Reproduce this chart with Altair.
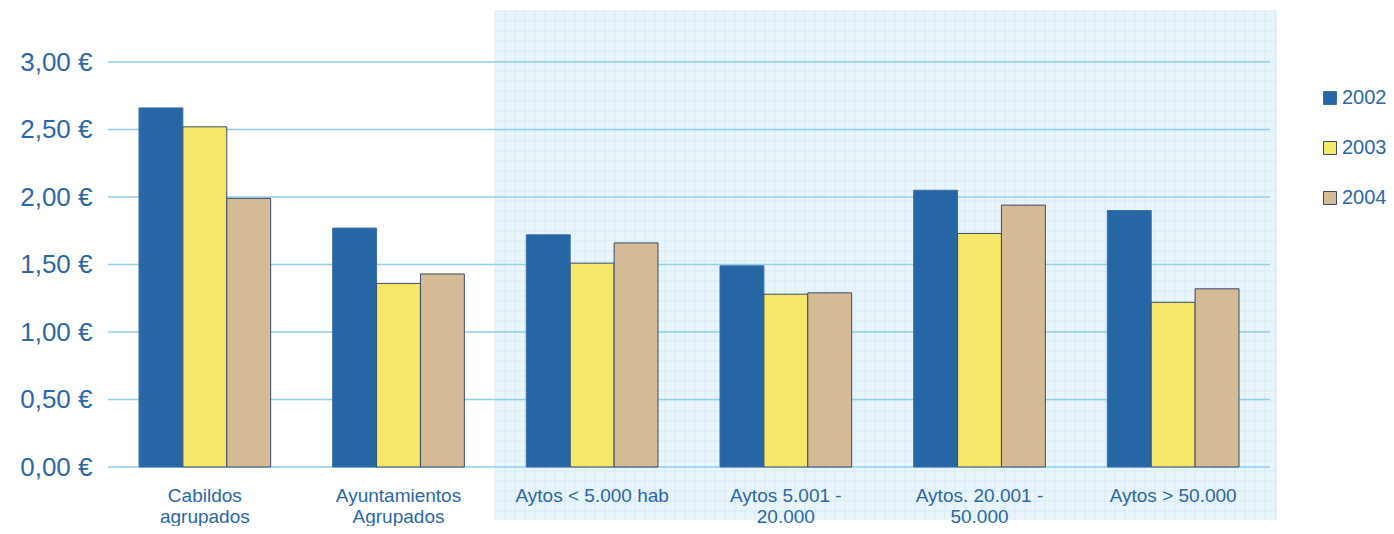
import altair as alt
import pandas as pd

categories = [
    "Cabildos|agrupados",
    "Ayuntamientos|Agrupados",
    "Aytos < 5.000 hab",
    "Aytos 5.001 -|20.000",
    "Aytos. 20.001 -|50.000",
    "Aytos > 50.000",
]
years = ["2002", "2003", "2004"]
v2002 = [2.66, 1.77, 1.72, 1.49, 2.05, 1.90]
v2003 = [2.52, 1.36, 1.51, 1.28, 1.73, 1.22]
v2004 = [1.99, 1.43, 1.66, 1.29, 1.94, 1.32]
y_ticks = [0, 0.5, 1, 1.5, 2, 2.5, 3]
colors = ["#2766a5", "#f7e768", "#d4bb95"]
strokes = ["#3d6fa8", "#3a4a6e", "#3a4a6e"]
text_color = "#2c68a8"

rows = []
for yr, vals in zip(years, [v2002, v2003, v2004]):
    for c, v in zip(categories, vals):
        rows.append({"cat": c, "year": yr, "value": v})
df = pd.DataFrame(rows)

W, H = 1162, 405
yscale = alt.Scale(domain=[0, 3], nice=False)
yaxis = alt.Axis(
    title=None,
    values=y_ticks,
    labelExpr="replace(format(datum.value, '.2f'), '.', ',') + ' €'",
    labelFontSize=26,
    labelColor=text_color,
    labelFont="Liberation Sans",
    labelPadding=16,
    domain=False,
    ticks=False,
    grid=False,
    zindex=1,
)

# shaded background panel (decoration)
bg = alt.Chart(pd.DataFrame({"a": [0]})).mark_rect(
    fill="#e9f5fb"
).encode(
    x=alt.value(387), x2=alt.value(1169), y=alt.value(-51), y2=alt.value(458)
)

grid_v = alt.Chart(alt.sequence(0, 79, 1, as_="i")).transform_calculate(
    px="387 + datum.i * 10"
).mark_rule(color="#d6ebf6", strokeWidth=1).encode(
    x=alt.X("px:Q", scale=None, axis=None), y=alt.value(-51), y2=alt.value(458)
)
grid_h = alt.Chart(alt.sequence(0, 51, 1, as_="j")).transform_calculate(
    py="-51 + datum.j * 10"
).mark_rule(color="#d6ebf6", strokeWidth=1).encode(
    y=alt.Y("py:Q", scale=None, axis=None), x=alt.value(387), x2=alt.value(1169)
)

gridlines = alt.Chart(pd.DataFrame({"t": y_ticks})).mark_rule(
    color="#8fd0ea", strokeWidth=1.5
).encode(
    y=alt.Y("t:Q", scale=yscale, axis=yaxis)
)

bars = alt.Chart(df).mark_bar(strokeWidth=1).encode(
    x=alt.X(
        "cat:N",
        sort=categories,
        scale=alt.Scale(paddingInner=0.32, paddingOuter=0.16),
        axis=alt.Axis(
            title=None,
            labelAngle=0,
            labelExpr="split(datum.label, '|')",
            labelFontSize=19,
            labelLineHeight=21,
            labelColor=text_color,
            labelFont="Liberation Sans",
            labelPadding=28,
            domain=False,
            ticks=False,
            grid=False,
            labelBaseline="middle",
            zindex=1,
        ),
    ),
    xOffset=alt.XOffset("year:N", sort=years),
    y=alt.Y("value:Q", scale=yscale, axis=yaxis),
    color=alt.Color(
        "year:N",
        sort=years,
        scale=alt.Scale(domain=years, range=colors),
        legend=alt.Legend(
            title=None,
            orient="none",
            legendX=1212,
            legendY=26,
            symbolType="square",
            symbolSize=169,
            symbolStrokeColor="#3a4a6e",
            symbolStrokeWidth=1,
            labelFontSize=20,
            labelColor=text_color,
            labelFont="Liberation Sans",
            rowPadding=30,
            labelOffset=2,
        ),
    ),
    stroke=alt.Stroke(
        "year:N", sort=years,
        scale=alt.Scale(domain=years, range=strokes), legend=None,
    ),
)

chart = alt.layer(bg, grid_v, grid_h, gridlines, bars).properties(
    width=W,
    height=H,
    background="white",
    autosize=alt.AutoSizeParams(type="none"),
    padding={"left": 100, "top": 54, "right": 116, "bottom": 59},
).configure_view(stroke=None).configure_axis(
    domain=False, ticks=False
)

chart.save("out.html", embed_options={"renderer": "svg", "actions": False})
